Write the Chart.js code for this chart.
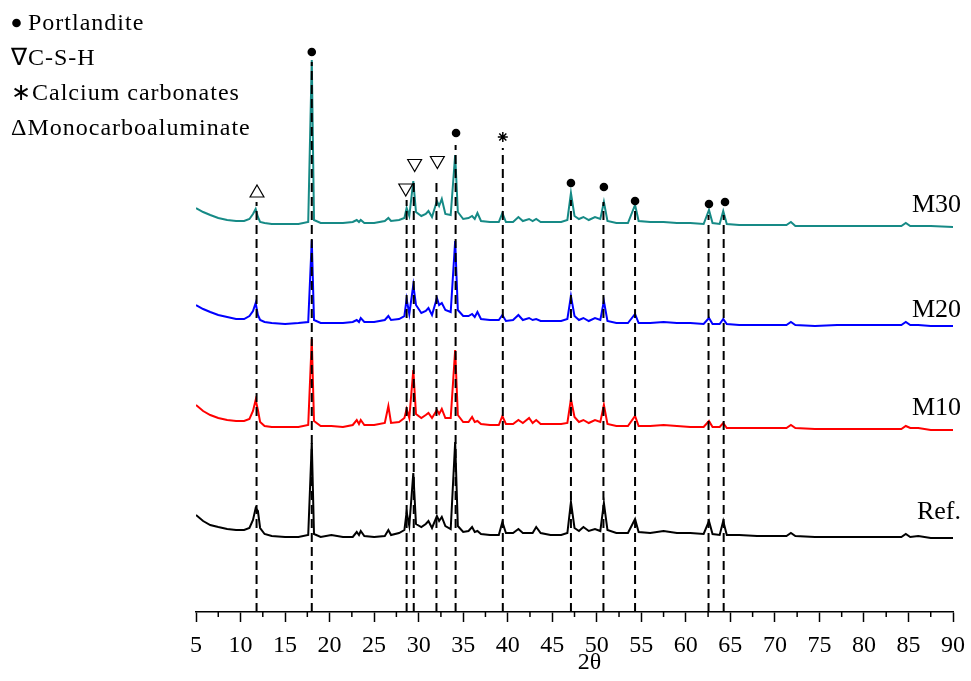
<!DOCTYPE html>
<html>
<head>
<meta charset="utf-8">
<script src="https://cdn.jsdelivr.net/npm/chart.js@4.4.1/dist/chart.umd.min.js"></script>
<style>
  html, body { margin: 0; padding: 0; background: #fff; }
  canvas { display: block; }
</style>
</head>
<body>
<canvas id="xrd" width="971" height="681"></canvas>
<script>
// 2theta positions the patterns were read at
const twoTheta = [5.0, 5.8, 6.6, 7.5, 8.5, 9.5, 10.4, 11.0, 11.4, 11.7, 11.95, 12.2, 12.7, 13.5, 15.0, 16.5, 17.6, 18.0, 18.25, 19.0,
  20.2, 21.5, 22.6, 23.05, 23.3, 23.5, 23.9, 25.0, 26.2, 26.6, 26.9, 27.8, 28.4, 28.65, 28.95, 29.4, 29.7, 30.3, 30.8, 31.1,
  31.5, 32.05, 32.3, 32.6, 33.0, 33.6, 34.1, 34.4, 35.0, 35.6, 36.0, 36.3, 36.6, 37.0, 38.0, 39.0, 39.4, 39.8, 40.6, 41.2,
  41.7, 42.4, 42.8, 43.2, 43.7, 44.8, 46.0, 46.7, 47.1, 47.5, 48.0, 48.5, 49.1, 49.8, 50.4, 50.8, 51.2, 52.2, 53.5, 54.3,
  54.7, 56.0, 57.5, 59.0, 60.5, 62.0, 62.6, 63.0, 63.8, 64.2, 64.6, 66.0, 68.0, 70.0, 71.3, 71.8, 72.3, 74.5, 77.0, 79.5,
  82.0, 84.2, 84.7, 85.2, 86.1, 87.5, 90.0];

// intensities (already offset for stacking)
const ref = [97, 91, 87, 85, 83, 82, 82, 84, 92, 104, 101, 84, 78, 76, 75, 75, 77, 169, 78, 75,
  77, 75, 75, 80, 77, 81, 76, 75, 76, 82, 77, 79, 82, 100, 86, 139, 88, 85, 88, 91,
  84, 96, 91, 95, 86, 83, 170, 86, 80, 81, 85, 80, 81, 78, 77, 77, 90, 79, 79, 83,
  79, 79, 79, 85, 79, 77, 77, 79, 110, 84, 81, 85, 81, 83, 81, 109, 82, 79, 79, 93,
  80, 79, 81, 79, 79, 78, 91, 78, 77, 91, 77, 77, 76, 76, 76, 79, 76, 75, 75, 75,
  75, 75, 78, 75, 76, 74, 74];
const m10 = [207, 201, 197, 194, 192, 191, 191, 193, 201, 212, 202, 190, 186, 185, 185, 185, 187, 273, 191, 186,
  186, 185, 187, 192, 188, 192, 187, 187, 189, 206, 189, 190, 194, 203, 194, 242, 198, 194, 197, 199,
  194, 202, 198, 203, 194, 194, 262, 197, 190, 190, 195, 190, 191, 188, 187, 187, 196, 188, 188, 192,
  189, 194, 189, 192, 188, 188, 188, 189, 213, 195, 190, 192, 189, 192, 190, 207, 188, 186, 186, 196,
  186, 186, 187, 186, 185, 185, 191, 185, 185, 189, 184, 184, 184, 184, 184, 187, 184, 183, 183, 183,
  183, 183, 186, 184, 184, 182, 182];
const m20 = [307, 303, 300, 297, 295, 293, 293, 296, 301, 309, 297, 292, 290, 289, 288, 289, 290, 372, 292, 289,
  289, 289, 290, 292, 290, 294, 290, 290, 292, 296, 292, 293, 296, 313, 298, 327, 307, 299, 301, 304,
  297, 314, 307, 309, 302, 300, 371, 302, 296, 296, 298, 295, 300, 293, 292, 292, 297, 291, 292, 297,
  292, 294, 292, 293, 291, 291, 291, 293, 316, 296, 292, 294, 291, 294, 292, 311, 291, 289, 289, 298,
  289, 289, 290, 289, 289, 288, 294, 288, 288, 293, 288, 287, 287, 287, 287, 290, 287, 286, 287, 287,
  287, 287, 290, 287, 287, 286, 286];
const m30 = [404, 400, 397, 394, 392, 391, 391, 393, 398, 403, 395, 390, 389, 388, 388, 388, 390, 552, 392, 389,
  389, 389, 390, 392, 390, 392, 389, 389, 391, 394, 391, 392, 394, 404, 396, 431, 400, 396, 398, 401,
  395, 411, 406, 413, 398, 397, 457, 400, 393, 394, 396, 393, 399, 391, 390, 390, 399, 390, 390, 395,
  391, 393, 391, 393, 390, 390, 390, 392, 419, 396, 393, 395, 392, 395, 393, 410, 391, 389, 389, 407,
  391, 390, 390, 389, 389, 388, 402, 389, 388, 401, 388, 387, 387, 387, 387, 390, 386, 386, 386, 386,
  386, 386, 389, 386, 386, 386, 385];

const seriesNames = ['Ref.', 'M10', 'M20', 'M30'];
const seriesColors = ['#000000', '#ff0000', '#0000ff', '#168a86'];
const nameLevels = [93, 197, 295, 400];

// dashed reference lines and how high each reaches
const peakLines = [11.8, 18.0, 28.65, 29.45, 32.0, 34.15, 39.45, 47.1, 50.75, 54.3, 62.55, 64.25];
const peakLineTops = [410, 550, 412, 430, 432, 467, 464, 412, 410, 402, 397, 397];

// phase markers
const portlanditeX = [18.0, 34.2, 47.1, 50.8, 54.3, 62.6, 64.4];
const portlanditeY = [560, 479, 429, 425, 411, 408, 410];
const cshX = [28.55, 29.55, 32.1];
const cshY = [424, 448.5, 451.5];
const carbonateX = [39.45];
const carbonateY = [475];
const monocarboX = [11.85];
const monocarboY = [419];

const legendLines = ['Portlandite', '\u2207C-S-H', '\u2217Calcium carbonates', '\u0394Monocarboaluminate'];

const pts = (xs, ys) => xs.map((v, i) => ({ x: v, y: ys[i] }));

const datasets = [];

datasets.push({ data: pts(portlanditeX, portlanditeY), showLine: false, pointStyle: 'circle',
  pointRadius: 4.3, pointBackgroundColor: '#000', pointBorderColor: '#000', pointBorderWidth: 0, order: 0 });
datasets.push({ data: pts(cshX, cshY), showLine: false, pointStyle: 'triangle', pointRotation: 180,
  pointRadius: 8, pointBackgroundColor: 'rgba(0,0,0,0)', pointBorderColor: '#000', pointBorderWidth: 1.2, order: 0 });
datasets.push({ data: pts(monocarboX, monocarboY), showLine: false, pointStyle: 'triangle',
  pointRadius: 8, pointBackgroundColor: 'rgba(0,0,0,0)', pointBorderColor: '#000', pointBorderWidth: 1.2, order: 0 });
datasets.push({ data: pts(carbonateX, carbonateY), showLine: false, pointStyle: 'star',
  pointRadius: 5, pointBorderColor: '#000', pointBorderWidth: 1.5, order: 0 });

peakLines.forEach((p, i) => {
  datasets.push({
    data: [{ x: p, y: 0 }, { x: p, y: peakLineTops[i] }],
    borderColor: '#000', borderWidth: 2, borderDash: [9, 5], pointRadius: 0, order: 1
  });
});

[ref, m10, m20, m30].forEach((vals, i) => {
  datasets.push({
    label: seriesNames[i],
    data: pts(twoTheta, vals),
    borderColor: seriesColors[i], borderWidth: 2, pointRadius: 0, order: 2
  });
});

const decorations = {
  id: 'decorations',
  afterDraw(chart) {
    const { ctx } = chart;
    const x = chart.scales.x, y = chart.scales.y;
    ctx.save();
    // minor ticks between the labelled ones
    ctx.strokeStyle = '#000';
    ctx.lineWidth = 1.5;
    for (let v = 7.5; v < 90; v += 5) {
      const px = x.getPixelForValue(v);
      ctx.beginPath();
      ctx.moveTo(px, y.bottom);
      ctx.lineTo(px, y.bottom + 5);
      ctx.stroke();
    }
    // pattern names at the right
    ctx.fillStyle = '#000';
    ctx.font = '26px "Liberation Serif"';
    ctx.textAlign = 'right';
    ctx.textBaseline = 'alphabetic';
    seriesNames.forEach((n, i) => {
      ctx.fillText(n, x.right + 8, y.getPixelForValue(nameLevels[i]));
    });
    // phase key in the top-left corner
    ctx.textAlign = 'left';
    ctx.font = '24px "Liberation Serif"';
    ctx.letterSpacing = '1px';
    ctx.beginPath();
    ctx.arc(16.5, 23, 4.3, 0, Math.PI * 2);
    ctx.fill();
    ctx.fillText(legendLines[0], 28, 30);
    ctx.fillText(legendLines[1], 11, 65);
    ctx.fillText(legendLines[2], 11, 100);
    ctx.fillText(legendLines[3], 11, 135);
    ctx.restore();
  }
};

new Chart(document.getElementById('xrd'), {
  type: 'line',
  data: { datasets: datasets },
  options: {
    responsive: false,
    animation: false,
    layout: { padding: { left: 196, right: 18, top: 12, bottom: 0 } },
    plugins: { legend: { display: false }, tooltip: { enabled: false } },
    elements: { line: { tension: 0, fill: false } },
    scales: {
      x: {
        type: 'linear',
        min: 5,
        max: 90,
        ticks: {
          stepSize: 5,
          color: '#000',
          padding: 6,
          maxRotation: 0,
          font: { family: 'Liberation Serif', size: 24, lineHeight: 1.5 }
        },
        grid: { drawOnChartArea: false, drawTicks: true, tickLength: 10, tickColor: '#000', tickWidth: 1.5 },
        border: { display: true, color: '#000', width: 1.5 },
        title: {
          display: true,
          text: '\u00a0\u00a0\u00a0\u00a0\u00a02\u03b8',
          color: '#000',
          padding: { top: 0, bottom: 4 },
          font: { family: 'Liberation Serif', size: 24 }
        },
        afterFit: (scale) => { scale.height = 69; }
      },
      y: { display: false, min: 0, max: 600 }
    }
  },
  plugins: [decorations]
});
</script>
</body>
</html>
